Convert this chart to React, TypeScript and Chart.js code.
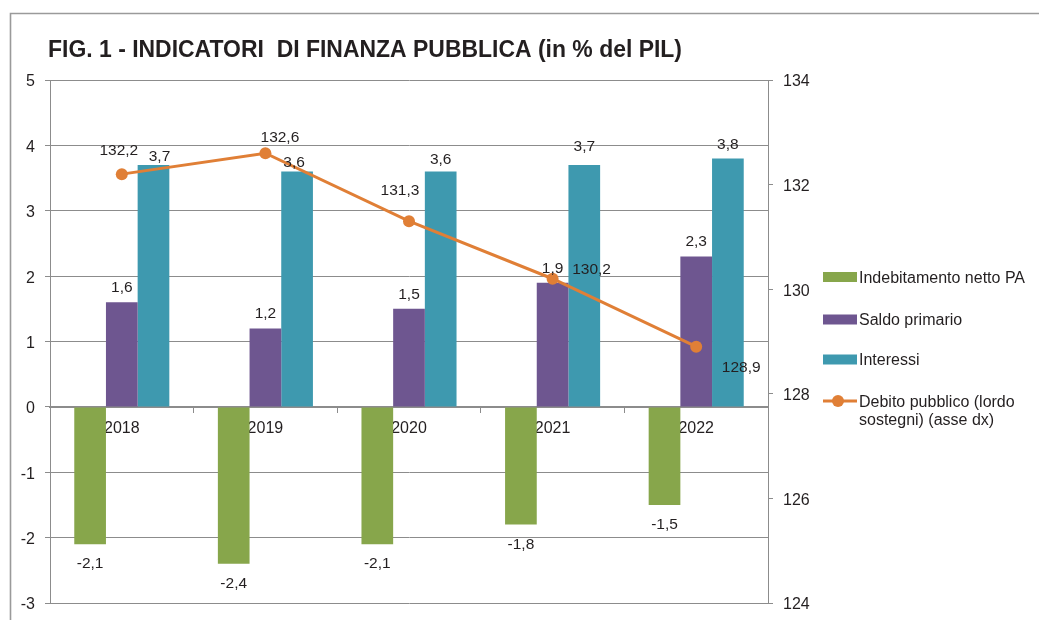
import React, { useEffect, useRef } from "react";
import { Chart, registerables } from "chart.js";

Chart.register(...registerables);

const years = ["2018", "2019", "2020", "2021", "2022"];
const indebitamento = [-2.1, -2.4, -2.1, -1.8, -1.5];
const saldoPrimario = [1.6, 1.2, 1.5, 1.9, 2.3];
const interessi = [3.7, 3.6, 3.6, 3.7, 3.8];
const debitoPubblico = [132.2, 132.6, 131.3, 130.2, 128.9];

const leftTicks = { min: -3, max: 5, step: 1 };
const rightTicks = { min: 124, max: 134, step: 2 };

const TITLE = "FIG. 1 - INDICATORI  DI FINANZA PUBBLICA (in % del PIL)";
const LEGEND_LABELS = [
  ["Indebitamento netto PA"],
  ["Saldo primario"],
  ["Interessi"],
  ["Debito pubblico (lordo", "sostegni) (asse dx)"],
];

// styles
const GREEN = "#87A64B";
const PURPLE = "#6E5690";
const TEAL = "#3E99AF";
const ORANGE = "#E07F36";
const GRID = "#8c8c8c";
const TEXT = "#231f20";
const FONT = "'Liberation Sans', Arial, Helvetica, sans-serif";

// label placement offsets (style only)
const tealLabelLift = [8, 9, 12, 18, 14];
const tealLabelShift = [6, -3, 0, 0, 0];
const purpleLabelLift = [15, 15, 14.5, 14, 15];
const negLabelDrop = 20;
const lineLabelOffsets = [
  [-3, -23],
  [14.5, -16],
  [-9, -30],
  [39, -9],
  [45, 21],
];

const fmt = (v: number) => v.toFixed(1).replace(".", ",");

const decorPlugin = {
  id: "decor",
  beforeDraw(chart: any) {
    const ctx = chart.ctx;
    ctx.save();
    // outer frame
    ctx.strokeStyle = "#9a9a9a";
    ctx.lineWidth = 1.6;
    ctx.beginPath();
    ctx.moveTo(10.5, 620);
    ctx.lineTo(10.5, 13.5);
    ctx.lineTo(1039, 13.5);
    ctx.stroke();
    // title
    ctx.font = `bold 23px ${FONT}`;
    ctx.fillStyle = TEXT;
    ctx.textBaseline = "alphabetic";
    ctx.textAlign = "left";
    const w = ctx.measureText(TITLE).width;
    const target = 634;
    ctx.translate(48, 57);
    ctx.scale(target / w, 1);
    ctx.fillText(TITLE, 0, 0);
    ctx.restore();
  },
  afterDatasetsDraw(chart: any) {
    const ctx = chart.ctx;
    ctx.save();
    ctx.font = `15.5px ${FONT}`;
    ctx.fillStyle = TEXT;
    ctx.textAlign = "center";
    ctx.textBaseline = "middle";
    chart.data.datasets.forEach((ds: any, di: number) => {
      const meta = chart.getDatasetMeta(di);
      meta.data.forEach((el: any, i: number) => {
        const v = ds.data[i] as number;
        const txt = fmt(v);
        if (ds.type === "line") {
          const [dx, dy] = lineLabelOffsets[i];
          ctx.fillText(txt, el.x + dx, el.y + dy);
        } else if (v < 0) {
          ctx.fillText(txt, el.x, el.y + negLabelDrop);
        } else {
          let lift = 15;
          let shift = 0;
          if (di === 1) lift = purpleLabelLift[i];
          if (di === 2) {
            lift = tealLabelLift[i];
            shift = tealLabelShift[i];
          }
          ctx.fillText(txt, el.x + shift, el.y - lift);
        }
      });
    });
    ctx.restore();
  },
  afterDraw(chart: any) {
    const ctx = chart.ctx;
    ctx.save();
    const centers = [277, 319.5, 359.5, 401];
    const sx = 823;
    const sw = 34;
    const tx = 859;
    ctx.font = `16px ${FONT}`;
    ctx.textAlign = "left";
    ctx.textBaseline = "middle";
    chart.data.datasets.forEach((ds: any, di: number) => {
      const cy = centers[di];
      if (ds.type === "line") {
        ctx.strokeStyle = ds.borderColor;
        ctx.lineWidth = 3;
        ctx.beginPath();
        ctx.moveTo(sx, cy);
        ctx.lineTo(sx + sw, cy);
        ctx.stroke();
        ctx.fillStyle = ds.borderColor;
        ctx.beginPath();
        ctx.arc(sx + sw / 2 - 2, cy, 6, 0, Math.PI * 2);
        ctx.fill();
      } else {
        ctx.fillStyle = ds.backgroundColor;
        ctx.fillRect(sx, cy - 5, sw, 10);
      }
      ctx.fillStyle = TEXT;
      LEGEND_LABELS[di].forEach((line, li) => {
        ctx.fillText(line, tx, cy + 1.5 + li * 18.5);
      });
    });
    ctx.restore();
  },
};

const fixVertical = (width: number) => (scale: any) => {
  scale.width = width;
  scale.paddingTop = 0;
  scale.paddingBottom = 0;
};

export default function App() {
  const ref = useRef<HTMLCanvasElement | null>(null);

  useEffect(() => {
    document.body.style.margin = "0";
    const canvas = ref.current;
    if (!canvas) return;
    const chart = new Chart(canvas, {
      type: "bar",
      data: {
        labels: years,
        datasets: [
          {
            type: "bar",
            label: "Indebitamento netto PA",
            data: indebitamento,
            backgroundColor: GREEN,
            yAxisID: "y",
            order: 1,
          },
          {
            type: "bar",
            label: "Saldo primario",
            data: saldoPrimario,
            backgroundColor: PURPLE,
            yAxisID: "y",
            order: 1,
          },
          {
            type: "bar",
            label: "Interessi",
            data: interessi,
            backgroundColor: TEAL,
            yAxisID: "y",
            order: 1,
          },
          {
            type: "line",
            label: "Debito pubblico (lordo sostegni) (asse dx)",
            data: debitoPubblico,
            borderColor: ORANGE,
            backgroundColor: ORANGE,
            pointBackgroundColor: ORANGE,
            pointBorderColor: ORANGE,
            borderWidth: 3,
            pointRadius: 6,
            pointBorderWidth: 0,
            tension: 0,
            yAxisID: "y1",
            order: 0,
          } as any,
        ],
      },
      options: {
        responsive: false,
        animation: false,
        events: [],
        layout: { padding: { left: 0, top: 80, right: 211, bottom: 17 } },
        datasets: {
          bar: { categoryPercentage: 0.662, barPercentage: 1.0 },
        },
        plugins: {
          legend: { display: false },
          title: { display: false },
          tooltip: { enabled: false },
        },
        scales: {
          x: {
            position: { y: 0 } as any,
            grid: {
              display: true,
              drawOnChartArea: false,
              drawTicks: true,
              tickLength: 5,
              color: GRID,
              offset: true,
            },
            border: { display: true, color: GRID, width: 2 },
            ticks: {
              font: { family: FONT, size: 16 },
              color: TEXT,
              padding: 7.5,
              maxRotation: 0,
            },
          },
          y: {
            position: "left",
            min: leftTicks.min,
            max: leftTicks.max,
            ticks: {
              stepSize: leftTicks.step,
              font: { family: FONT, size: 16 },
              color: TEXT,
              padding: 10,
              labelOffset: 2,
            } as any,
            grid: { color: GRID, tickLength: 5, lineWidth: 1 },
            border: { display: true, color: GRID, width: 1 },
            afterFit: fixVertical(50),
          },
          y1: {
            position: "right",
            min: rightTicks.min,
            max: rightTicks.max,
            ticks: {
              stepSize: rightTicks.step,
              font: { family: FONT, size: 16 },
              color: TEXT,
              padding: 10,
              labelOffset: 2,
            } as any,
            grid: {
              drawOnChartArea: false,
              color: GRID,
              tickLength: 5,
              lineWidth: 1,
            },
            border: { display: true, color: GRID, width: 1 },
            afterFit: fixVertical(60),
          },
        },
      },
      plugins: [decorPlugin],
    });
    return () => chart.destroy();
  }, []);

  return (
    <div style={{ position: "fixed", left: 0, top: 0, width: 1039, height: 620, background: "#fff" }}>
      <canvas ref={ref} width={1039} height={620} />
    </div>
  );
}
